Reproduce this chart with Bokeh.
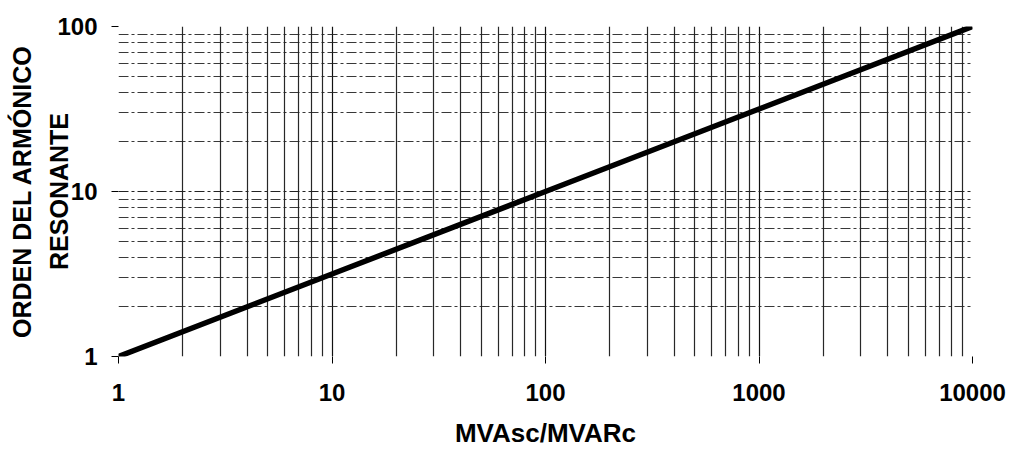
from bokeh.plotting import figure
from bokeh.models import Range1d, FixedTicker, NumeralTickFormatter
from bokeh.embed import file_html
from bokeh.resources import INLINE

# data (resonant harmonic order vs short-circuit ratio)
ratio = [1, 10, 100, 1000, 10000]
order = [1, 3.16, 10, 31.6, 100]

x_ticks = [1, 10, 100, 1000, 10000]
y_ticks = [1, 10, 100]
x_minor = [d * m for d in [1, 10, 100, 1000] for m in range(2, 10)]
y_minor = [d * m for d in [1, 10] for m in range(2, 10)]

FONT = "Liberation Sans"
W, H = 1008, 450

p = figure(width=W, height=H, x_axis_type="log", y_axis_type="log",
           x_range=Range1d(1, 10000), y_range=Range1d(1, 100),
           output_backend="svg", toolbar_location=None,
           min_border_left=118, min_border_right=W - 118 - 854,
           min_border_top=26, min_border_bottom=H - 26 - 331)
p.outline_line_color = None
p.background_fill_color = "white"
p.border_fill_color = "white"

p.xaxis.ticker = FixedTicker(ticks=x_ticks, minor_ticks=x_minor)
p.yaxis.ticker = FixedTicker(ticks=y_ticks, minor_ticks=y_minor)
p.xaxis.formatter = NumeralTickFormatter(format="0")
p.yaxis.formatter = NumeralTickFormatter(format="0")

for ax in (p.xaxis, p.yaxis):
    ax.axis_line_color = None
    ax.minor_tick_line_color = None
    ax.major_tick_line_color = "black"
    ax.major_tick_out = 7
    ax.major_tick_in = 0
    ax.major_label_text_font = FONT
    ax.major_label_text_font_style = "bold"
    ax.major_label_text_font_size = "24px"
    ax.major_label_text_color = "black"

p.xaxis.major_label_standoff = 20
p.yaxis.major_label_standoff = 14

p.xaxis.axis_label = "MVAsc/MVARc"
p.xaxis.axis_label_text_font = FONT
p.xaxis.axis_label_text_font_style = "bold"
p.xaxis.axis_label_text_font_size = "26px"
p.xaxis.axis_label_text_color = "black"
p.xaxis.axis_label_text_line_height = 0.8
p.xaxis.axis_label_standoff = 14

p.yaxis.axis_label = "ORDEN DEL ARMÓNICO\nRESONANTE"
p.yaxis.axis_label_text_font = FONT
p.yaxis.axis_label_text_font_style = "bold"
p.yaxis.axis_label_text_font_size = "25px"
p.yaxis.axis_label_text_color = "black"
p.yaxis.axis_label_text_line_height = 1.35
p.yaxis.axis_label_standoff = -19

# grids: vertical solid, horizontal dash-dot
p.xgrid.grid_line_color = "#111111"
p.xgrid.grid_line_width = 1.2
p.xgrid.minor_grid_line_color = "#111111"
p.xgrid.minor_grid_line_width = 1.2
p.xgrid.minor_grid_line_alpha = 0.9

p.ygrid.grid_line_color = "#222222"
p.ygrid.grid_line_width = 1
p.ygrid.grid_line_dash = "10 3 3 3"
p.ygrid.minor_grid_line_color = "#222222"
p.ygrid.minor_grid_line_width = 1
p.ygrid.minor_grid_line_dash = "10 3 3 3"
p.ygrid.minor_grid_line_alpha = 0.9

p.line(ratio, order, line_color="black", line_width=5.5)

open("out.html", "w").write(file_html(p, INLINE))
